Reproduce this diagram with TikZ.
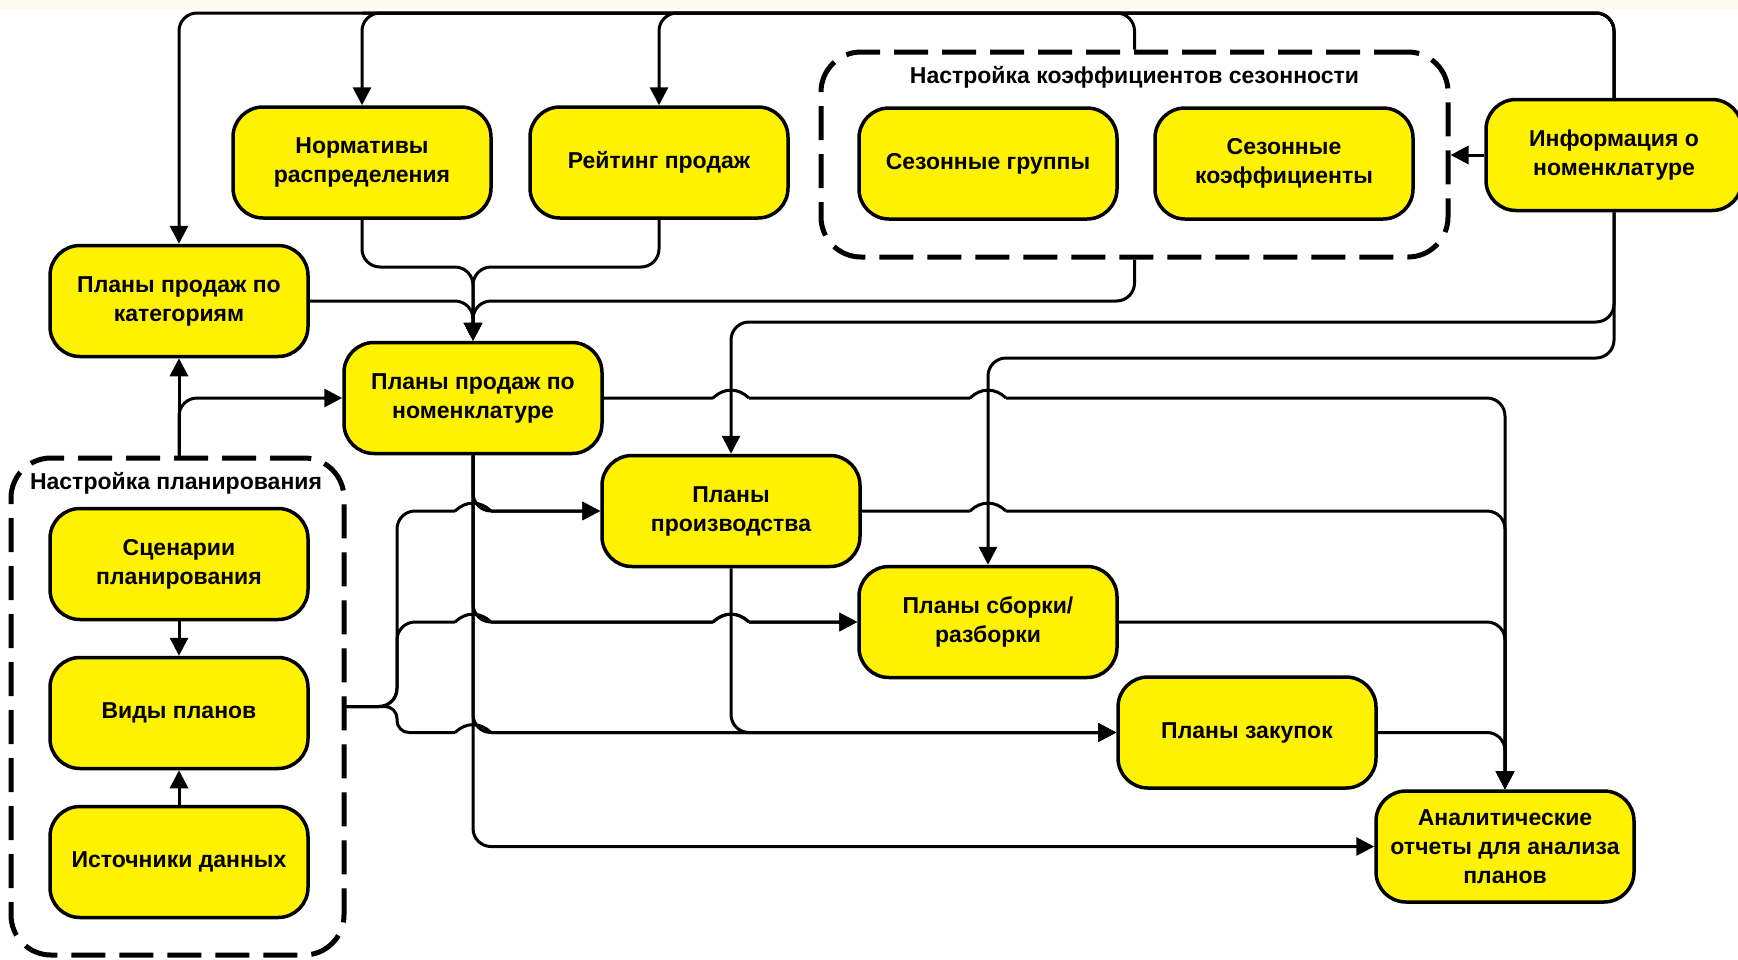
\documentclass[tikz,border=0pt]{standalone}
\usepackage{fontspec}
\setmainfont{Liberation Sans}
\usetikzlibrary{arrows.meta,calc}

\definecolor{cream}{RGB}{252,251,240}

% a small bump where a horizontal connector jumps over a vertical one
\newcommand\hopat[1]{($(#1)+(-18,0)$) ($(#1)+(-18,0)$)
  .. controls ($(#1)+(-7,-10.5)$) and ($(#1)+(7,-10.5)$) .. ($(#1)+(18,0)$)
  ($(#1)+(18,0)$)}

\begin{document}
\begin{tikzpicture}[x=1pt,y=-1pt,
  box/.style={draw=black, line width=3.5pt, fill=yellow, rounded corners=30pt,
    minimum width=258pt, minimum height=111pt, align=center, inner sep=2pt,
    font=\bfseries\fontsize{23}{29}\selectfont},
  group/.style={draw=black, line width=5pt, dash pattern=on 34pt off 14pt,
    rounded corners=40pt},
  grouptitle/.style={font=\bfseries\fontsize{23}{29}\selectfont, inner sep=0pt},
  line/.style={line width=3pt, rounded corners=18pt},
  conn/.style={line, -{Triangle[length=18pt,width=18pt]}}
]
\useasboundingbox (0,0) rectangle (1738,959);
\fill[white] (0,0) rectangle (1738,959);
\fill[cream] (0,0) rectangle (1738,9);

% groups
\node[group, minimum width=627pt, minimum height=205pt] (season) at (1134.5,154.5) {};
\node[grouptitle] (seasont) at (1134.5,77) {Настройка коэффициентов сезонности};
\node[group, minimum width=333pt, minimum height=497pt] (plan) at (177.5,706.5) {};
\node[grouptitle] (plant) at (176,483) {Настройка планирования};

% blocks
\node[box] (norm)  at (362,162.5)  {Нормативы\\распределения};
\node[box] (rate)  at (659,162.5)  {Рейтинг продаж};
\node[box] (sgrp)  at (988,163.5)  {Сезонные группы};
\node[box] (scoef) at (1284,163.5) {Сезонные\\коэффициенты};
\node[box, minimum width=256pt] (info) at (1614,155) {Информация о\\номенклатуре};
\node[box] (cat)   at (179,301)    {Планы продаж по\\категориям};
\node[box] (nom)   at (473,398)    {Планы продаж по\\номенклатуре};
\node[box] (prod)  at (731,511)    {Планы\\производства};
\node[box] (asm)   at (988,622)    {Планы сборки/\\разборки};
\node[box] (purch) at (1247,732.5) {Планы закупок};
\node[box] (anal)  at (1505,846.5) {Аналитические\\отчеты для анализа\\планов};
\node[box] (scen)  at (179,564)    {Сценарии\\планирования};
\node[box] (kinds) at (179,713)    {Виды планов};
\node[box] (src)   at (179,862)    {Источники данных};

% bus levels and crossings
\coordinate (ytop) at (0,13);
\coordinate (y267) at (0,267);
\coordinate (y301) at (0,301);
\coordinate (y322) at (0,322);
\coordinate (y358) at (0,358);
\coordinate (fork) at (397,706.5);
\coordinate (c1) at (prod.north |- nom.east);
\coordinate (c2) at (asm.north |- nom.east);
\coordinate (c3) at (asm.north |- prod.east);
\coordinate (c4) at (nom.south |- prod.west);
\coordinate (c5) at (nom.south |- asm.west);
\coordinate (c6) at (prod.south |- asm.west);
\coordinate (c7) at (nom.south |- purch.west);

% top bus from item information
\draw[conn] (info.north) -- (info.north |- ytop) -- (cat.north |- ytop) -- (cat.north);
\draw[conn] (info.north) -- (info.north |- ytop) -- (norm.north |- ytop) -- (norm.north);
\draw[conn] (info.north) -- (info.north |- ytop) -- (rate.north |- ytop) -- (rate.north);
\draw[line] (season.north) -- (season.north |- ytop) -- (norm.north |- ytop);
\draw[conn] (info.west) -- (info.west -| season.east);
\draw[conn] (info.south) -- (info.south |- y322) -- (prod.north |- y322) -- (prod.north);
\draw[conn] (info.south) -- (info.south |- y358) -- (asm.north |- y358) -- (asm.north);

% inputs of item sales plans
\draw[conn] (norm.south) -- (norm.south |- y267) -- (nom.north |- y267) -- (nom.north);
\draw[conn] (rate.south) -- (rate.south |- y267) -- (nom.north |- y267) -- (nom.north);
\draw[conn] (cat.east) -- (cat.east -| nom.north) -- (nom.north);
\draw[conn] (season.south) -- (season.south |- y301) -- (nom.north |- y301) -- (nom.north);
\draw[conn] (cat.south |- plan.north) -- (cat.south);
\draw[conn] (cat.south |- plan.north) |- (nom.west);

% planning setup block
\draw[conn] (scen.south) -- (kinds.north);
\draw[conn] (src.north) -- (kinds.south);

% plan kinds to the dependent plans
\draw[conn] (plan.east) -- (fork) -- (fork |- prod.west) -- \hopat{c4} -- (prod.west);
\draw[conn] (plan.east) -- (fork) -- (fork |- asm.west) -- \hopat{c5} -- \hopat{c6} -- (asm.west);
\draw[conn, rounded corners=12pt] (plan.east) -- (fork) -- (fork |- purch.west)
  -- \hopat{c7} -- (purch.west);

% item sales plans to the dependent plans
\draw[conn] (nom.south) -- (c4) -- (prod.west);
\draw[conn] (nom.south) -- (c5) -- \hopat{c6} -- (asm.west);
\draw[conn] (nom.south) -- (c7) -- (purch.west);
\draw[conn] (nom.south) |- (anal.west);
\draw[conn] (prod.south) -- (c6 |- purch.west) -- (purch.west);

% all plans into the analytical reports
\draw[conn] (nom.east) -- \hopat{c1} -- \hopat{c2} -- (anal.north |- nom.east) -- (anal.north);
\draw[conn] (prod.east) -- \hopat{c3} -- (anal.north |- prod.east) -- (anal.north);
\draw[conn] (asm.east) -- (anal.north |- asm.east) -- (anal.north);
\draw[conn] (purch.east) -- (anal.north |- purch.east) -- (anal.north);
\end{tikzpicture}
\end{document}
